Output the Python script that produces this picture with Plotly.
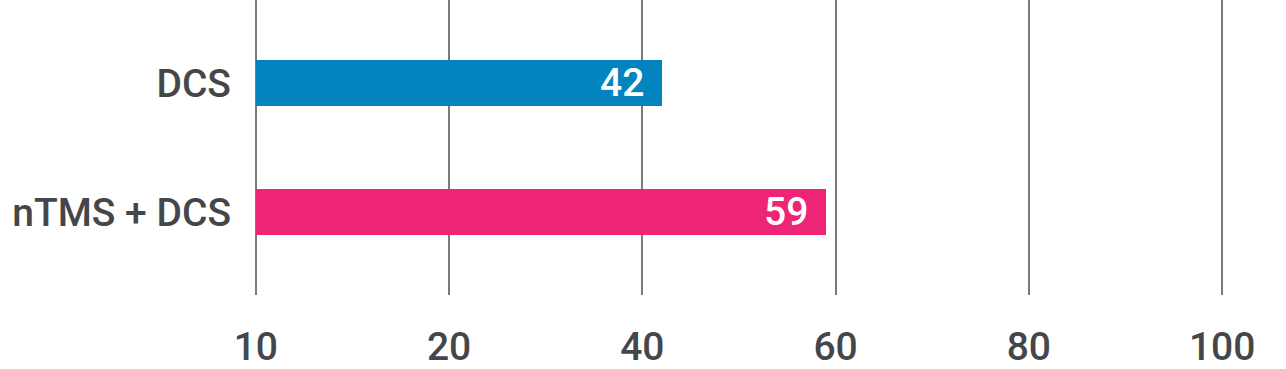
import numpy as np
import plotly.graph_objects as go

categories = ["DCS", "nTMS + DCS"]
values = [42, 59]
colors = ["#0284C0", "#EE2477"]
tick_values = [10, 20, 40, 60, 80, 100]
tick_labels = ["10", "20", "40", "60", "80", "100"]

# the axis is piecewise linear: equal spacing between listed ticks
tick_pos = list(range(len(tick_values)))
bar_pos = [float(np.interp(v, tick_values, tick_pos)) for v in values]

FONT = "Roboto"
TXT = "#45464a"
SIZE = 39

fig = go.Figure()
fig.add_trace(go.Bar(
    y=categories,
    x=bar_pos,
    orientation="h",
    marker=dict(color=colors, line=dict(width=0)),
    width=0.36,
    hoverinfo="skip",
))

for cat, pos, v in zip(categories, bar_pos, values):
    fig.add_annotation(
        x=pos, y=cat, text=str(v), showarrow=False,
        xanchor="right", yanchor="middle", xshift=-16,
        font=dict(family=FONT, size=SIZE, color="white", weight=500),
    )

pad = 0.02
unit = 193.2
left = 256 - pad * unit
plot_w = (5 + 2 * pad) * unit
right = 1286 - left - plot_w

fig.update_layout(
    width=1286, height=369,
    margin=dict(l=left, r=right, t=0, b=74),
    paper_bgcolor="white", plot_bgcolor="white",
    showlegend=False,
    bargap=0,
    xaxis=dict(
        range=[-pad, 5 + pad],
        tickvals=tick_pos,
        ticktext=tick_labels,
        showgrid=True, gridcolor="#7a7a7a", gridwidth=1.6,
        zeroline=False, showline=False,
        ticks="", ticklabelstandoff=25,
        tickfont=dict(family=FONT, size=SIZE, color=TXT, weight=500),
    ),
    yaxis=dict(
        autorange=False,
        range=[1.643, -0.643],
        showgrid=False, zeroline=False, showline=False,
        ticks="", ticklabelstandoff=20,
        tickfont=dict(family=FONT, size=SIZE, color=TXT, weight=500),
    ),
)

fig.write_html("out.html")
